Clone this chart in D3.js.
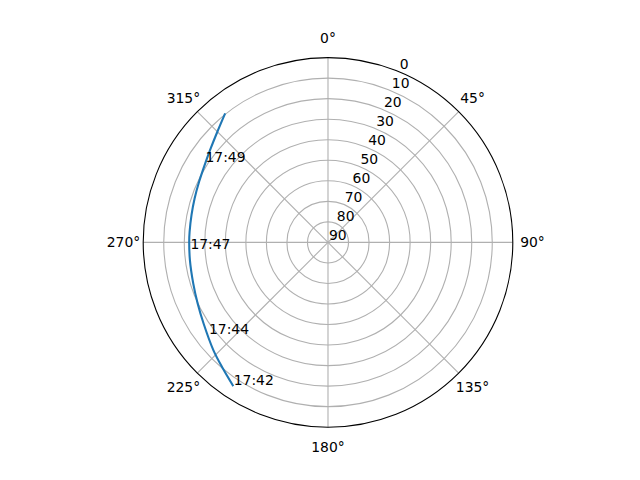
<html>
<head>
<meta charset="utf-8">
<title>Pass skyplot</title>
<style>
  body { margin: 0; padding: 0; background: white; font-family: "DejaVu Sans", sans-serif; }
  .grid { fill: none; stroke: #b0b0b0; stroke-width: 1.1; }
  .spine { fill: none; stroke: black; stroke-width: 1.1; }
  .track { fill: none; stroke: #1f77b4; stroke-width: 2.1; stroke-linecap: square; }
  text { font-size: 13.9px; fill: black; }
</style>
</head>
<body>
<div id="chart"></div>
<script src="https://cdn.jsdelivr.net/npm/d3@7"></script>
<script>
// track: azimuth (deg, clockwise from north) and elevation (deg)
var azimuth   = [213.7, 219.9, 226.8, 236.7, 244.9, 253.1, 262.7, 270.3, 274.4, 281.4, 288.3, 295.3, 302.7, 308.7, 315.0, 321.1];
var elevation = [6.4, 10.1, 13.4, 17.6, 19.9, 21.4, 22.2, 22.4, 22.4, 22.2, 21.6, 20.6, 18.9, 16.8, 13.8, 9.9];

// time labels along the track
var timeLabels = ["17:42", "17:44", "17:47", "17:49"];
var labelAz    = [213.7, 232.8, 267.1, 303.1];
var labelEl    = [6.4, 16.6, 22.4, 18.2];

var thetaTicks = [0, 45, 90, 135, 180, 225, 270, 315];
var rTicks = [0, 10, 20, 30, 40, 50, 60, 70, 80, 90];

var width = 640, height = 480;
var cx = 328, cy = 242.4, R = 184.8;

var svg = d3.select("#chart").append("svg")
    .attr("width", width)
    .attr("height", height);

var g = svg.append("g").attr("transform", "translate(" + cx + "," + cy + ")");

// elevation 90 at the centre, 0 on the rim
var r = d3.scaleLinear().domain([0, 90]).range([R, 0]);
var rad = function (d) { return d * Math.PI / 180; };

// rings
g.append("g").selectAll("circle")
    .data(rTicks.filter(function (d) { return d > 0 && d < 90; }))
    .enter().append("circle")
    .attr("class", "grid")
    .attr("r", function (d) { return r(d); });

// spokes
g.append("g").selectAll("line")
    .data(thetaTicks)
    .enter().append("line")
    .attr("class", "grid")
    .attr("x1", 0).attr("y1", 0)
    .attr("x2", function (d) { return R * Math.sin(rad(d)); })
    .attr("y2", function (d) { return -R * Math.cos(rad(d)); });

// the track
var pts = azimuth.map(function (a, i) { return [a, elevation[i]]; });
var line = d3.lineRadial()
    .angle(function (d) { return rad(d[0]); })
    .radius(function (d) { return r(d[1]); })
    .curve(d3.curveCatmullRom);

g.append("path")
    .datum(pts)
    .attr("class", "track")
    .attr("d", line);

// outer circle
g.append("circle").attr("class", "spine").attr("r", R);

// angle labels
g.append("g").selectAll("text")
    .data(thetaTicks)
    .enter().append("text")
    .attr("x", function (d) { return 204.5 * Math.sin(rad(d)); })
    .attr("y", function (d) { return -204.5 * Math.cos(rad(d)); })
    .attr("dy", "0.36em")
    .attr("text-anchor", "middle")
    .text(function (d) { return d + "\u00b0"; });

// elevation labels at 22.5 deg
var la = rad(22.5);
g.append("g").selectAll("text")
    .data(rTicks)
    .enter().append("text")
    .attr("x", function (d) { return r(d) * Math.sin(la) + 1; })
    .attr("y", function (d) { return -r(d) * Math.cos(la) - 2.5; })
    .text(function (d) { return d; });

// time labels
g.append("g").selectAll("text")
    .data(timeLabels)
    .enter().append("text")
    .attr("x", function (d, i) { return r(labelEl[i]) * Math.sin(rad(labelAz[i])) + 1; })
    .attr("y", function (d, i) { return -r(labelEl[i]) * Math.cos(rad(labelAz[i])); })
    .text(function (d) { return d; });
</script>
</body>
</html>
